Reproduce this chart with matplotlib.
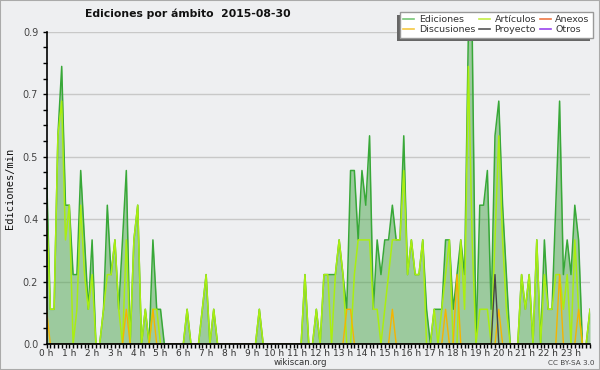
import numpy as np
import matplotlib
matplotlib.use("Agg")
import matplotlib.pyplot as plt
from matplotlib.lines import Line2D
from matplotlib.patches import Rectangle
from matplotlib.ticker import MultipleLocator

# ediciones por minuto, tramos de 10 minutos (144 tramos = 24 h)
ediciones = [
    0.5, 0.1, 0.1, 0.6, 0.8, 0.4, 0.4, 0.2, 0.2, 0.5, 0.3, 0.1,
    0.3, 0.0, 0.0, 0.1, 0.4, 0.2, 0.3, 0.1, 0.3, 0.5, 0.0, 0.3,
    0.4, 0.0, 0.1, 0.0, 0.3, 0.1, 0.1, 0.0, 0.0, 0.0, 0.0, 0.0,
    0.0, 0.1, 0.0, 0.0, 0.0, 0.1, 0.2, 0.0, 0.1, 0.0, 0.0, 0.0,
    0.0, 0.0, 0.0, 0.0, 0.0, 0.0, 0.0, 0.0, 0.1, 0.0, 0.0, 0.0,
    0.0, 0.0, 0.0, 0.0, 0.0, 0.0, 0.0, 0.0, 0.2, 0.0, 0.0, 0.1,
    0.0, 0.2, 0.2, 0.2, 0.2, 0.3, 0.2, 0.1, 0.5, 0.5, 0.3, 0.5,
    0.4, 0.6, 0.1, 0.3, 0.2, 0.3, 0.3, 0.4, 0.3, 0.3, 0.6, 0.2,
    0.3, 0.2, 0.2, 0.3, 0.1, 0.0, 0.1, 0.1, 0.1, 0.3, 0.3, 0.1,
    0.2, 0.3, 0.2, 0.9, 0.9, 0.0, 0.4, 0.4, 0.5, 0.1, 0.6, 0.7,
    0.4, 0.2, 0.0, 0.0, 0.0, 0.2, 0.1, 0.2, 0.0, 0.3, 0.0, 0.3,
    0.1, 0.1, 0.4, 0.7, 0.2, 0.3, 0.2, 0.4, 0.3, 0.0, 0.0, 0.1,
]
articulos = [
    0.4, 0.1, 0.1, 0.6, 0.7, 0.3, 0.4, 0.0, 0.1, 0.4, 0.2, 0.1,
    0.2, 0.0, 0.0, 0.1, 0.2, 0.2, 0.3, 0.1, 0.0, 0.3, 0.0, 0.3,
    0.4, 0.0, 0.1, 0.0, 0.1, 0.1, 0.0, 0.0, 0.0, 0.0, 0.0, 0.0,
    0.0, 0.1, 0.0, 0.0, 0.0, 0.1, 0.2, 0.0, 0.1, 0.0, 0.0, 0.0,
    0.0, 0.0, 0.0, 0.0, 0.0, 0.0, 0.0, 0.0, 0.1, 0.0, 0.0, 0.0,
    0.0, 0.0, 0.0, 0.0, 0.0, 0.0, 0.0, 0.0, 0.2, 0.0, 0.0, 0.1,
    0.0, 0.2, 0.2, 0.0, 0.2, 0.3, 0.2, 0.0, 0.0, 0.2, 0.3, 0.3,
    0.3, 0.3, 0.1, 0.1, 0.0, 0.1, 0.2, 0.3, 0.3, 0.3, 0.5, 0.2,
    0.3, 0.2, 0.2, 0.3, 0.0, 0.0, 0.1, 0.0, 0.1, 0.2, 0.3, 0.0,
    0.0, 0.3, 0.1, 0.8, 0.3, 0.0, 0.1, 0.1, 0.1, 0.0, 0.3, 0.6,
    0.3, 0.1, 0.0, 0.0, 0.0, 0.2, 0.1, 0.2, 0.0, 0.3, 0.0, 0.2,
    0.1, 0.1, 0.2, 0.2, 0.1, 0.2, 0.0, 0.3, 0.1, 0.0, 0.0, 0.1,
]
discusiones = [
    0.1, 0.0, 0.0, 0.0, 0.0, 0.0, 0.0, 0.0, 0.0, 0.0, 0.0, 0.0,
    0.0, 0.0, 0.0, 0.0, 0.0, 0.0, 0.0, 0.0, 0.0, 0.1, 0.0, 0.0,
    0.0, 0.0, 0.0, 0.0, 0.1, 0.0, 0.0, 0.0, 0.0, 0.0, 0.0, 0.0,
    0.0, 0.0, 0.0, 0.0, 0.0, 0.0, 0.0, 0.0, 0.0, 0.0, 0.0, 0.0,
    0.0, 0.0, 0.0, 0.0, 0.0, 0.0, 0.0, 0.0, 0.0, 0.0, 0.0, 0.0,
    0.0, 0.0, 0.0, 0.0, 0.0, 0.0, 0.0, 0.0, 0.0, 0.0, 0.0, 0.0,
    0.0, 0.0, 0.0, 0.0, 0.0, 0.0, 0.0, 0.1, 0.1, 0.0, 0.0, 0.0,
    0.0, 0.0, 0.0, 0.0, 0.0, 0.0, 0.0, 0.1, 0.0, 0.0, 0.0, 0.0,
    0.0, 0.0, 0.0, 0.0, 0.0, 0.0, 0.0, 0.0, 0.0, 0.1, 0.0, 0.0,
    0.2, 0.0, 0.0, 0.0, 0.0, 0.0, 0.0, 0.0, 0.0, 0.0, 0.0, 0.1,
    0.0, 0.0, 0.0, 0.0, 0.0, 0.0, 0.0, 0.0, 0.0, 0.0, 0.0, 0.0,
    0.0, 0.0, 0.0, 0.2, 0.0, 0.0, 0.0, 0.0, 0.1, 0.0, 0.0, 0.0,
]
proyecto = [
    0.0, 0.0, 0.0, 0.0, 0.0, 0.0, 0.0, 0.0, 0.0, 0.0, 0.0, 0.0,
    0.0, 0.0, 0.0, 0.0, 0.0, 0.0, 0.0, 0.0, 0.0, 0.0, 0.0, 0.0,
    0.0, 0.0, 0.0, 0.0, 0.0, 0.0, 0.0, 0.0, 0.0, 0.0, 0.0, 0.0,
    0.0, 0.0, 0.0, 0.0, 0.0, 0.0, 0.0, 0.0, 0.0, 0.0, 0.0, 0.0,
    0.0, 0.0, 0.0, 0.0, 0.0, 0.0, 0.0, 0.0, 0.0, 0.0, 0.0, 0.0,
    0.0, 0.0, 0.0, 0.0, 0.0, 0.0, 0.0, 0.0, 0.0, 0.0, 0.0, 0.0,
    0.0, 0.0, 0.0, 0.0, 0.0, 0.0, 0.0, 0.0, 0.0, 0.0, 0.0, 0.0,
    0.0, 0.0, 0.0, 0.0, 0.0, 0.0, 0.0, 0.0, 0.0, 0.0, 0.0, 0.0,
    0.0, 0.0, 0.0, 0.0, 0.0, 0.0, 0.0, 0.0, 0.0, 0.0, 0.0, 0.0,
    0.0, 0.0, 0.0, 0.0, 0.0, 0.0, 0.0, 0.0, 0.0, 0.0, 0.2, 0.0,
    0.0, 0.0, 0.0, 0.0, 0.0, 0.0, 0.0, 0.0, 0.0, 0.0, 0.0, 0.0,
    0.0, 0.0, 0.0, 0.0, 0.0, 0.0, 0.0, 0.0, 0.0, 0.0, 0.0, 0.0,
]
# anexos y otros: ninguna edición en todo el día
anexos = [0.0] * 144
otros = [0.0] * 144

horas = ["0 h", "1 h", "2 h", "3 h", "4 h", "5 h", "6 h", "7 h",
         "8 h", "9 h", "10 h", "11 h", "12 h", "13 h", "14 h", "15 h",
         "16 h", "17 h", "18 h", "19 h", "20 h", "21 h", "22 h", "23 h"]
y_ticks = [0.0, 0.18, 0.36, 0.54, 0.72, 0.9]
y_labels = ["0.0", "0.2", "0.4", "0.5", "0.7", "0.9"]

BG = "#eeeff1"
W, H = 600, 370

fig = plt.figure(figsize=(6, 3.7), dpi=100, facecolor=BG)
ax = fig.add_axes([46.5 / W, 1 - 344 / H, (590 - 46.5) / W, (344 - 31.7) / H])
ax.set_facecolor(BG)

x = np.arange(len(ediciones))
ax.fill_between(x, ediciones, 0, color="#4ca64c", alpha=0.5, lw=0, zorder=3)
ax.plot(x, anexos, color="#ee7744", lw=1.0, zorder=3.5)
ax.plot(x, otros, color="#9944ee", lw=1.0, zorder=3.5)
ax.plot(x, ediciones, color="#38a838", lw=1.1, zorder=4)
ax.plot(x, articulos, color="#aaee11", lw=1.1, zorder=5)
ax.plot(x, discusiones, color="#f5b400", lw=1.0, zorder=6)
ax.plot(x, proyecto, color="#444444", lw=1.0, zorder=7)

ax.set_xlim(0, len(ediciones) - 1)
ax.set_ylim(0, 0.9)
ax.set_xticks(x[::6])
ax.set_xticklabels(horas)
ax.xaxis.set_minor_locator(MultipleLocator(1))
ax.set_yticks(y_ticks)
ax.set_yticklabels(y_labels)
ax.yaxis.set_minor_locator(MultipleLocator(0.045))

ax.yaxis.grid(True, color="#c8c8c8", lw=1.0, zorder=1)
ax.set_axisbelow(True)
ax.tick_params(axis="x", which="major", length=3, width=1, pad=0.5,
               labelsize=6.5, labelcolor="#333333")
ax.tick_params(axis="x", which="minor", length=3, width=1)
ax.tick_params(axis="y", which="major", length=3, width=1, pad=3,
               labelsize=7, labelcolor="#444444")
ax.tick_params(axis="y", which="minor", length=3, width=1)

for s in ["top", "right"]:
    ax.spines[s].set_visible(False)
for s in ["left", "bottom"]:
    ax.spines[s].set_linewidth(1.2)
    ax.spines[s].set_zorder(10)

fig.text(188 / W, 1 - 14 / H, "Ediciones por ámbito  2015-08-30",
         ha="center", va="center", fontsize=7.8, fontweight="bold", color="#111111")
fig.text(10 / W, 1 - 188 / H, "Ediciones/min", rotation=90, ha="center", va="center",
         family="DejaVu Sans Mono", fontsize=7.5, color="#111111")
fig.text(300 / W, 1 - 362.5 / H, "wikiscan.org", ha="center", va="center",
         fontsize=6.2, color="#333333")
fig.text(571 / W, 1 - 363 / H, "CC BY-SA 3.0", ha="center", va="center",
         fontsize=5.2, color="#444444")

handles = [
    Line2D([], [], color="#77c777", lw=1.2),
    Line2D([], [], color="#f5c842", lw=1.2),
    Line2D([], [], color="#c4ee44", lw=1.2),
    Line2D([], [], color="#555555", lw=1.2),
    Line2D([], [], color="#ee7744", lw=1.2),
    Line2D([], [], color="#9944ee", lw=1.2),
]
labels = ["Ediciones", "Discusiones", "Artículos", "Proyecto", "Anexos", "Otros"]
leg = fig.legend(handles, labels, ncol=3, loc="upper right",
                 bbox_to_anchor=(593 / W, 1 - 11.7 / H), fontsize=6.8,
                 frameon=True, fancybox=False, edgecolor="#999999",
                 facecolor="white", framealpha=1, borderpad=0.35,
                 labelspacing=0.15, handlelength=1.2, handletextpad=0.45,
                 columnspacing=0.4, borderaxespad=0)
for t in leg.get_texts():
    t.set_color("#333333")
leg.set_zorder(20)

# sombra de la leyenda (abajo a la izquierda)
fig.canvas.draw()
bb = leg.get_window_extent()
sombra = Rectangle((bb.x0 - 3, bb.y0 - 3), bb.width, bb.height, transform=None,
                   facecolor="#666666", edgecolor="none", zorder=19)
fig.add_artist(sombra)

fig.add_artist(Rectangle((0, 0), 1, 1, transform=fig.transFigure, fill=False,
                         edgecolor="#aaaaaa", lw=1.5))

fig.savefig("out.png", dpi=100, facecolor=BG)
